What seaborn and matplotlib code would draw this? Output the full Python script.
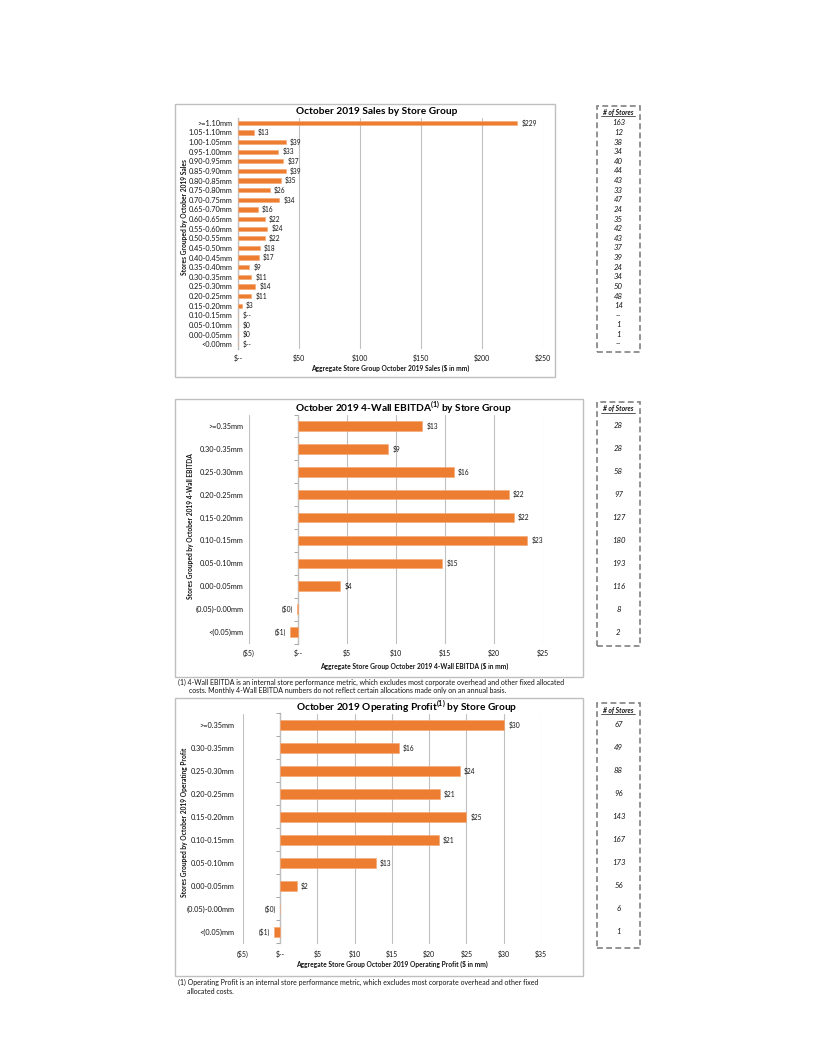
import pandas as pd
import numpy as np
import matplotlib
matplotlib.use("Agg")
import matplotlib.pyplot as plt
import seaborn as sns
from matplotlib.patches import Rectangle
from matplotlib.lines import Line2D
from matplotlib.ticker import FuncFormatter
from matplotlib.transforms import blended_transform_factory

# ---- data ----
sales_groups = [">=1.10mm", "1.05-1.10mm", "1.00-1.05mm", "0.95-1.00mm", "0.90-0.95mm",
                "0.85-0.90mm", "0.80-0.85mm", "0.75-0.80mm", "0.70-0.75mm", "0.65-0.70mm",
                "0.60-0.65mm", "0.55-0.60mm", "0.50-0.55mm", "0.45-0.50mm", "0.40-0.45mm",
                "0.35-0.40mm", "0.30-0.35mm", "0.25-0.30mm", "0.20-0.25mm", "0.15-0.20mm",
                "0.10-0.15mm", "0.05-0.10mm", "0.00-0.05mm", "<0.00mm"]
sales_values = [229, 13, 39, 33, 37, 39, 35, 26, 34, 16, 22, 24, 22, 18, 17, 9, 11, 14, 11, 3,
                0, 0.2, 0.2, 0]
sales_stores = ["163", "12", "38", "34", "40", "44", "43", "33", "47", "24", "35", "42", "43",
                "37", "39", "24", "34", "50", "48", "14", "--", "1", "1", "--"]

profit_groups = [">=0.35mm", "0.30-0.35mm", "0.25-0.30mm", "0.20-0.25mm", "0.15-0.20mm",
                 "0.10-0.15mm", "0.05-0.10mm", "0.00-0.05mm", "(0.05)-0.00mm", "<(0.05)mm"]
ebitda_values = [12.7, 9.2, 15.9, 21.5, 22.0, 23.4, 14.7, 4.3, -0.1, -0.8]
ebitda_stores = ["28", "28", "58", "97", "127", "180", "193", "116", "8", "2"]
op_values = [30.1, 15.9, 24.1, 21.4, 25.0, 21.3, 12.8, 2.2, -0.05, -0.8]
op_stores = ["67", "49", "88", "96", "143", "167", "173", "56", "6", "1"]

ORANGE = "#ED7D31"
EDGE = "#F5A772"
GRID = "#C0C0C0"
TXT = "#141414"

sns.set_theme(style="white")
plt.rcParams["font.family"] = ["Lato", "DejaVu Sans"]
plt.rcParams["mathtext.fontset"] = "custom"
plt.rcParams["mathtext.rm"] = "Lato:bold"
plt.rcParams["mathtext.bf"] = "Lato:bold"

W, H = 820, 1061
fig = plt.figure(figsize=(W / 100, H / 100), dpi=100)


def fx(x):
    return x / W


def fy(y):
    return 1 - y / H


def money(v):
    if abs(v) < 1e-9:
        return "$--"
    if v < 0:
        return f"(${abs(v):.0f})"
    return f"${v:.0f}"


def bar_text(v, stores):
    if stores == "--":
        return "$--"
    r = round(v)
    return f"(${abs(r)})" if v < 0 else f"${r}"


def panel(groups, values, stores, plot, xlim, xticks, bar_w, ypad, xpad, zero_ticks,
          title, title_xy, xlabel, xlabel_xy, ylabel, ylabel_xy, box, cbox, head_y):
    x0, y0, x1, y1 = plot
    ax = fig.add_axes([fx(x0), fy(y1), (x1 - x0) / W, (y1 - y0) / H])
    df = pd.DataFrame({"group": groups, "value": values})
    sns.barplot(data=df, x="value", y="group", orient="h", color=ORANGE, saturation=1,
                width=bar_w, errorbar=None, edgecolor=EDGE, linewidth=0.4, ax=ax)
    ax.set_xlim(xlim)
    ax.set_ylim(len(groups) - 0.5, -0.5)
    ax.set_xticks(xticks)
    ax.xaxis.set_major_formatter(FuncFormatter(lambda v, p: money(v)))
    ax.grid(axis="x", color=GRID, lw=0.8)
    ax.grid(axis="y", visible=False)
    ax.set_axisbelow(True)
    for s in ax.spines.values():
        s.set_visible(False)
    ax.tick_params(axis="x", length=0, labelsize=5, pad=xpad, labelcolor=TXT)
    ax.tick_params(axis="y", length=0, labelsize=5.3, pad=ypad, labelcolor=TXT)
    ax.set_xlabel("")
    ax.set_ylabel("")
    ax.bar_label(ax.containers[0], labels=[bar_text(v, s) for v, s in zip(values, stores)],
                 padding=3, fontsize=4.8, color=TXT)

    # category axis at zero
    loc = (0 - xlim[0]) / (xlim[1] - xlim[0])
    sec = ax.secondary_yaxis(loc)
    sec.spines["left"].set_color("#A6A6A6")
    sec.spines["left"].set_linewidth(0.9)
    sec.set_yticks(np.arange(len(groups) + 1) - 0.5, labels=[])
    sec.tick_params(length=3 if zero_ticks else 0, color="#A6A6A6", width=0.7)

    fig.text(fx(title_xy[0]), fy(title_xy[1]), title, ha="center", va="center",
             fontsize=7.3, fontweight="bold", color="black")
    fig.text(fx(xlabel_xy[0]), fy(xlabel_xy[1]), xlabel, ha="center", va="center",
             fontsize=4.8, fontweight="bold", color=TXT)
    fig.text(fx(ylabel_xy[0]), fy(ylabel_xy[1]), ylabel, ha="center", va="center",
             rotation=90, fontsize=4.8, fontweight="bold", color=TXT)

    bx0, by0, bx1, by1 = box
    fig.add_artist(Rectangle((fx(bx0), fy(by1)), (bx1 - bx0) / W, (by1 - by0) / H,
                             transform=fig.transFigure, fill=False, ec="#BFBFBF", lw=1))

    # store count column
    cx0, cy0, cx1, cy1 = cbox
    fig.add_artist(Rectangle((fx(cx0), fy(cy1)), (cx1 - cx0) / W, (cy1 - cy0) / H,
                             transform=fig.transFigure, fill=False, ec="#808080", lw=1.2,
                             ls=(0, (3.5, 2))))
    cxm = (cx0 + cx1) / 2
    fig.text(fx(cxm), fy(head_y), "# of Stores", ha="center", va="center", fontsize=4.9,
             fontweight="bold", fontstyle="italic", color=TXT)
    fig.add_artist(Line2D([fx(cxm - 17), fx(cxm + 17)], [fy(head_y + 3.5)] * 2,
                          transform=fig.transFigure, color=TXT, lw=0.5))
    trans = blended_transform_factory(fig.transFigure, ax.transData)
    for i, c in enumerate(stores):
        fig.text(fx(cxm), i, c, transform=trans, ha="center", va="center", fontsize=5.6,
                 fontstyle="italic", color=TXT)
    return ax


panel(sales_groups, sales_values, sales_stores,
      plot=(238, 118, 543, 349), xlim=(0, 250), xticks=np.arange(0, 251, 50), bar_w=0.45,
      ypad=4, xpad=4, zero_ticks=False,
      title="October 2019 Sales by Store Group", title_xy=(377, 112),
      xlabel="Aggregate Store Group October 2019 Sales ($ in mm)", xlabel_xy=(390, 368),
      ylabel="Stores Grouped by October 2019 Sales", ylabel_xy=(185, 217),
      box=(175, 104, 555, 377), cbox=(597, 106, 640, 352), head_y=112)

panel(profit_groups, ebitda_values, ebitda_stores,
      plot=(249, 414.5, 543, 643.5), xlim=(-5, 25), xticks=np.arange(-5, 26, 5), bar_w=0.42,
      ypad=4, xpad=4, zero_ticks=True,
      title="October 2019 4-Wall EBITDA$^{(1)}$ by Store Group", title_xy=(403, 408),
      xlabel="Aggregate Store Group October 2019 4-Wall EBITDA ($ in mm)", xlabel_xy=(414, 666),
      ylabel="Stores Grouped by October 2019 4-Wall EBITDA", ylabel_xy=(191, 526),
      box=(175, 399, 583, 677), cbox=(597, 402, 640, 646), head_y=409)

panel(profit_groups, op_values, op_stores,
      plot=(243, 713.5, 541, 943.5), xlim=(-5, 35), xticks=np.arange(-5, 36, 5), bar_w=0.4,
      ypad=6, xpad=5, zero_ticks=True,
      title="October 2019 Operating Profit$^{(1)}$ by Store Group", title_xy=(407, 707),
      xlabel="Aggregate Store Group October 2019 Operating Profit ($ in mm)", xlabel_xy=(392, 964),
      ylabel="Stores Grouped by October 2019 Operating Profit", ylabel_xy=(185, 822),
      box=(175, 698, 583, 976), cbox=(597, 703, 640, 948), head_y=710)

# footnotes
fig.text(fx(178), fy(682), "(1) 4-Wall EBITDA is an internal store performance metric, which excludes most "
         "corporate overhead and other fixed allocated", fontsize=5, va="center", color=TXT)
fig.text(fx(189), fy(690.5), "costs. Monthly 4-Wall EBITDA numbers do not reflect certain allocations "
         "made only on an annual basis.", fontsize=5, va="center", color=TXT)
fig.text(fx(178), fy(982), "(1) Operating Profit is an internal store performance metric, which excludes "
         "most corporate overhead and other fixed", fontsize=5, va="center", color=TXT)
fig.text(fx(187), fy(991.5), "allocated costs.", fontsize=5, va="center", color=TXT)

fig.savefig("out.png", dpi=100, facecolor="white")
